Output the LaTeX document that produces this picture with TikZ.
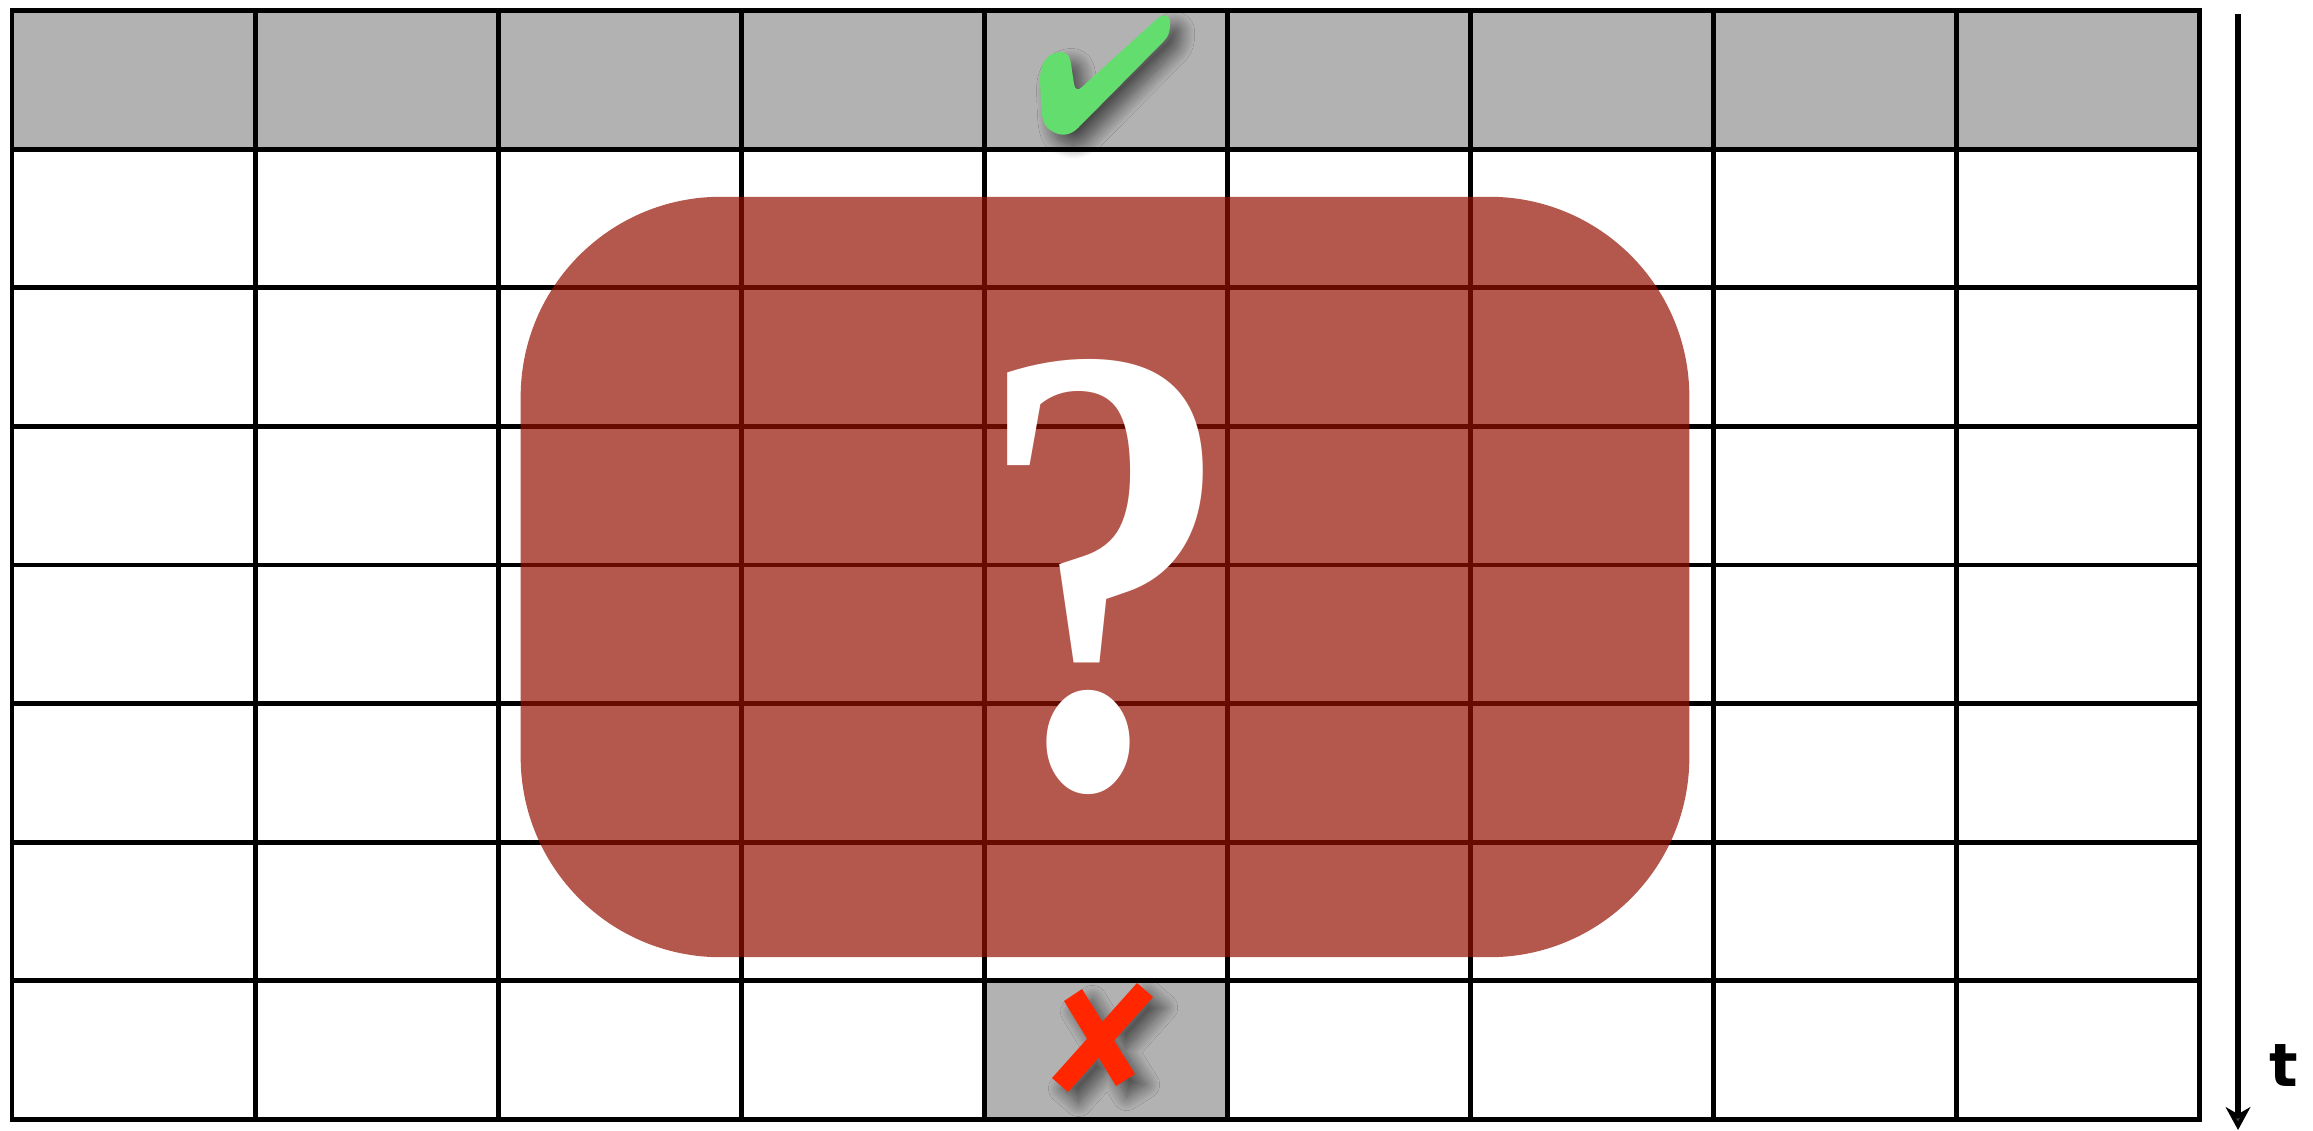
\documentclass[tikz,border=0pt]{standalone}
\usepackage{fontspec}
\usepackage{tikz}
\usetikzlibrary{arrows.meta,shadows.blur}
\definecolor{cellgray}{HTML}{B2B2B2}
\definecolor{boxred}{HTML}{941000}
\definecolor{checkgreen}{HTML}{62DD6E}
\definecolor{crossred}{HTML}{FF2600}
\newfontfamily\axisfont{DejaVu Sans}
\newfontfamily\askfont{Liberation Serif}

\begin{document}
\begin{tikzpicture}[x=0.01cm, y=-0.01cm,
    gridline/.style={line width=1.42pt, line cap=rect},
    markshadow/.style={blur shadow={shadow xshift=3pt, shadow yshift=-3pt, shadow blur radius=4pt, shadow blur steps=20, shadow opacity=60}},
    qbox/.style={rounded corners=2cm, minimum width=11.68cm, minimum height=7.6cm, inner sep=0pt,
        fill=boxred, fill opacity=.7, text opacity=1, text=white,
        font=\askfont\bfseries\fontsize{183}{183}\selectfont},
    timearrow/.style={line width=1.5pt, -{Stealth[length=6.5pt, width=7pt, inset=2pt]}}]
\useasboundingbox (0,0) rectangle (2313,1131);

\fill[cellgray] (12,11) rectangle (2199,149.5);
\fill[cellgray] (984,980.5) rectangle (1227,1119);

\foreach \i in {0,...,9}
    \draw[gridline] ({12+243*\i},11) -- ({12+243*\i},1119);
\foreach \j in {0,...,8}
    \draw[gridline] (12,{11+138.5*\j}) -- (2199,{11+138.5*\j});

\fill[checkgreen, markshadow] (1060,52) .. controls (1068,52) and (1070,57) .. (1071,64)
    -- (1074,84) .. controls (1075,90) and (1078,91) .. (1082,87)
    -- (1158,18) .. controls (1164,13) and (1171,15) .. (1170,24)
    .. controls (1170,32) and (1168,37) .. (1164,41)
    -- (1078,128) .. controls (1070,136) and (1060,137) .. (1050,130)
    .. controls (1043,125) and (1042,118) .. (1041,105)
    -- (1040,80) .. controls (1040,62) and (1048,53) .. (1060,52) -- cycle;

\fill[crossred, markshadow] (1064,1001) -- (1116,1086) -- (1135,1074) -- (1082,989) -- cycle
    (1137,983) -- (1052,1078) -- (1068,1092) -- (1153,997) -- cycle;

\node[qbox] (unknown) at (1105,577) {\scalebox{0.8}[1]{?}};

\coordinate (tstart) at (2238,14);
\coordinate (tend) at (2238,1130);
\draw[timearrow] (tstart) -- (tend);
\node[font=\axisfont\bfseries\fontsize{17}{17}\selectfont, inner sep=0pt] (tlabel) at (2284,1066) {t};
\end{tikzpicture}
\end{document}
